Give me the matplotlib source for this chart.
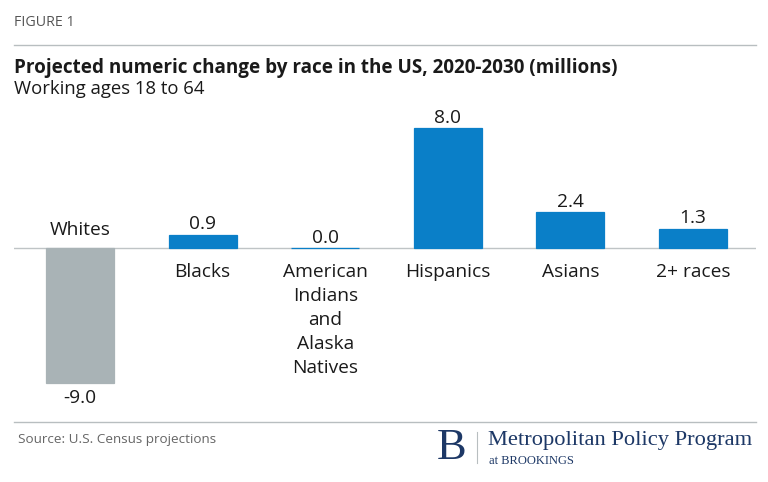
import matplotlib
matplotlib.use("Agg")
from matplotlib import pyplot as plt

categories = ["Whites", "Blacks", "American\nIndians\nand\nAlaska\nNatives",
              "Hispanics", "Asians", "2+ races"]
values = [-9.0, 0.9, 0.0, 8.0, 2.4, 1.3]
value_labels = ["-9.0", "0.9", "0.0", "8.0", "2.4", "1.3"]

blue = "#0A7FC8"
grey = "#A9B3B6"
navy = "#1D3866"
W, H = 768, 482

plt.rcParams['font.family'] = ['Open Sans', 'DejaVu Sans']
fig = plt.figure(figsize=(W / 100, H / 100), dpi=100)

def px(x, y):
    return x / W, 1 - y / H

# header
fig.text(*px(14, 22), "FIGURE 1", fontsize=10.3, color="#555555", va="center")
fig.add_artist(plt.Line2D([14 / W, 756 / W], [1 - 45 / H] * 2, color="#B8BEC0", lw=1))
fig.text(*px(14, 68), "Projected numeric change by race in the US, 2020-2030 (millions)",
         fontsize=13.6, fontweight="bold", color="#1a1a1a", va="center")
fig.text(*px(14, 89), "Working ages 18 to 64", fontsize=13.3, color="#1a1a1a", va="center")

# axes: baseline at y=248, 15 px per unit
top, bot = 110, 410
ax = fig.add_axes([14 / W, 1 - bot / H, (756 - 14) / W, (bot - top) / H])
spacing = 122.6
x0 = (14 - 80) / spacing
ax.set_xlim(x0, x0 + (756 - 14) / spacing)
ax.set_ylim(-(bot - 248) / 15, (248 - top) / 15)
ax.axis("off")

xs = range(len(values))
colors = [grey if v < 0 else blue for v in values]
ax.bar(xs, values, width=0.555, color=colors, edgecolor=colors, lw=0.9, zorder=2)
ax.axhline(0, color="#BFC4C6", lw=1, zorder=1)

fs = 13.8
for x, v, lab, cat in zip(xs, values, value_labels, categories):
    if v < 0:
        ax.annotate(lab, (x, v), xytext=(0, -4), textcoords="offset points",
                    ha="center", va="top", fontsize=fs, color="#1a1a1a")
        ax.annotate(cat, (x, 0), xytext=(0, 6.5), textcoords="offset points",
                    ha="center", va="bottom", fontsize=fs, color="#1a1a1a")
    else:
        ax.annotate(lab, (x, v), xytext=(0, 1), textcoords="offset points",
                    ha="center", va="bottom", fontsize=fs, color="#1a1a1a")
        ax.annotate(cat, (x, 0), xytext=(0, -11), textcoords="offset points",
                    ha="center", va="top", fontsize=fs, color="#1a1a1a",
                    linespacing=1.42)

# footer
fig.add_artist(plt.Line2D([14 / W, 756 / W], [1 - 422 / H] * 2, color="#B8BEC0", lw=1))
fig.text(*px(18, 439), "Source: U.S. Census projections", fontsize=9.7,
         color="#666666", va="center")
fig.text(*px(452, 448), "B", fontsize=32, color=navy, family="Liberation Serif",
         ha="center", va="center")
fig.add_artist(plt.Line2D([477 / W] * 2, [1 - 432 / H, 1 - 463 / H], color="#B8BEC0", lw=0.8))
fig.text(*px(488, 441), "Metropolitan Policy Program", fontsize=16.2, color=navy,
         family="Liberation Serif", va="center")
fig.text(*px(489, 461), "at BROOKINGS", fontsize=9, color=navy,
         family="Liberation Serif", va="center")

fig.savefig("out.png", dpi=100)
